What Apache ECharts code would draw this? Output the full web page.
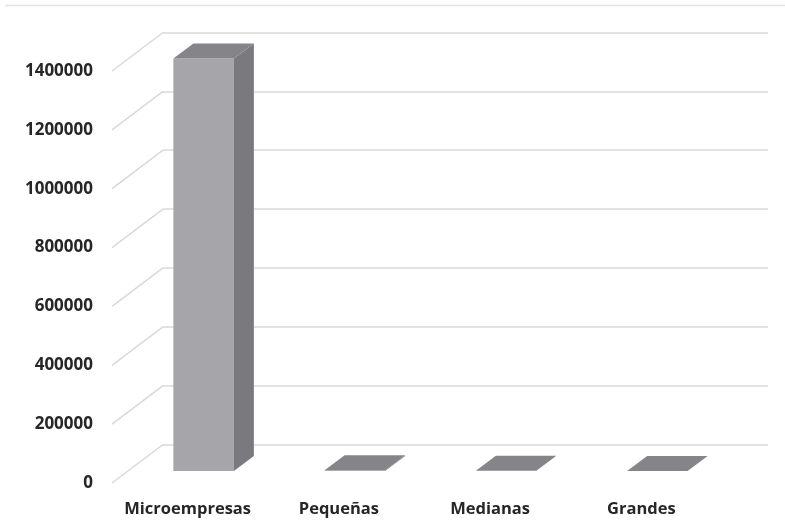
<!DOCTYPE html>
<html>
<head>
<meta charset="utf-8">
<script src="https://cdn.jsdelivr.net/npm/echarts@6/dist/echarts.min.js"></script>
<style>
  html, body { margin: 0; padding: 0; background: #ffffff; }
  #chart { width: 785px; height: 528px; }
</style>
</head>
<body>
<div id="chart"></div>
<script>
// Number of companies by size
const categories = ['Microempresas', 'Pequeñas', 'Medianas', 'Grandes'];
const empresas = [1402000, 2500, 600, 150];
const yMin = 0;
const yMax = 1400000;
const yStep = 200000;
const yTicks = [0, 200000, 400000, 600000, 800000, 1000000, 1200000, 1400000];

// Oblique projection: how far the back wall sits behind the front plane
const WALL_DX = 51, WALL_DY = 38.5;
// Bar placement in depth
const BAR_DX = 16, BAR_DY = 12;
const DEPTH_DX = 20, DEPTH_DY = 15;

const FRONT = { left: 112, right: 68, top: 71, bottom: 45 };
const BACK = {
  left: FRONT.left + WALL_DX,
  right: FRONT.right - WALL_DX,
  top: FRONT.top - WALL_DY,
  bottom: FRONT.bottom + WALL_DY
};

const labelFont = {
  fontFamily: 'Open Sans',
  fontWeight: 'bold',
  color: '#262626'
};

const chart = echarts.init(document.getElementById('chart'), null, { renderer: 'canvas' });

chart.setOption({
  backgroundColor: '#ffffff',
  animation: false,
  graphic: [{
    type: 'line',
    shape: { x1: 5, y1: 5.5, x2: 785, y2: 5.5 },
    style: { stroke: '#e3e3e3', lineWidth: 1.5 },
    silent: true
  }],
  grid: [
    Object.assign({ containLabel: false }, FRONT),
    Object.assign({ containLabel: false }, BACK)
  ],
  xAxis: [
    {
      type: 'category', gridIndex: 0, data: categories,
      axisLine: { show: false }, axisTick: { show: false },
      axisLabel: Object.assign({ interval: 0, margin: 18, fontSize: 16.5 }, labelFont)
    },
    {
      type: 'category', gridIndex: 1, data: categories, show: false
    }
  ],
  yAxis: [
    {
      type: 'value', gridIndex: 0, min: yMin, max: yMax, interval: yStep,
      axisLine: { show: false }, axisTick: { show: false },
      splitLine: { show: false },
      axisLabel: Object.assign({
        margin: 19,
        fontSize: 17,
        padding: [7, 0, 0, 0],
        formatter: function (v) { return String(v); }
      }, labelFont)
    },
    {
      type: 'value', gridIndex: 1, min: yMin, max: yMax, interval: yStep,
      axisLine: { show: false }, axisTick: { show: false },
      axisLabel: { show: false },
      splitLine: { show: true, lineStyle: { color: '#d9d9d9', width: 1.5 } }
    }
  ],
  series: [
    {
      // floor-to-wall diagonals on the left side
      type: 'custom', xAxisIndex: 0, yAxisIndex: 0, z: 1, silent: true,
      data: yTicks.map(function (v) { return [0, v]; }),
      renderItem: function (params, api) {
        const y = api.coord([0, api.value(1)])[1];
        const x = params.coordSys.x;
        return {
          type: 'line',
          shape: { x1: x, y1: y, x2: x + WALL_DX, y2: y - WALL_DY },
          style: { stroke: '#d9d9d9', lineWidth: 1.5 }
        };
      }
    },
    {
      // 3D columns
      type: 'custom', xAxisIndex: 0, yAxisIndex: 0, z: 5, silent: true,
      data: empresas.map(function (v, i) { return [i, v]; }),
      renderItem: function (params, api) {
        const i = api.value(0);
        const v = api.value(1);
        const base = api.coord([i, 0]);
        const top = api.coord([i, v]);
        const band = api.size([1, 0])[0];
        const w = band * 0.4;
        const x0 = base[0] - w / 2 + BAR_DX;
        const x1 = x0 + w;
        const yb = base[1] - BAR_DY;
        const yt = top[1] - BAR_DY;
        const children = [];
        if (yb - yt > 0.5) {
          children.push({
            type: 'rect',
            shape: { x: x0, y: yt, width: w, height: yb - yt },
            style: { fill: '#a6a6aa' }
          });
          children.push({
            type: 'polygon',
            shape: { points: [[x1, yb], [x1, yt], [x1 + DEPTH_DX, yt - DEPTH_DY], [x1 + DEPTH_DX, yb - DEPTH_DY]] },
            style: { fill: '#7a7a7e' }
          });
        }
        children.push({
          type: 'polygon',
          shape: { points: [[x0, yt], [x1, yt], [x1 + DEPTH_DX, yt - DEPTH_DY], [x0 + DEPTH_DX, yt - DEPTH_DY]] },
          style: { fill: '#858589' }
        });
        return { type: 'group', children: children };
      }
    }
  ]
});
</script>
</body>
</html>
